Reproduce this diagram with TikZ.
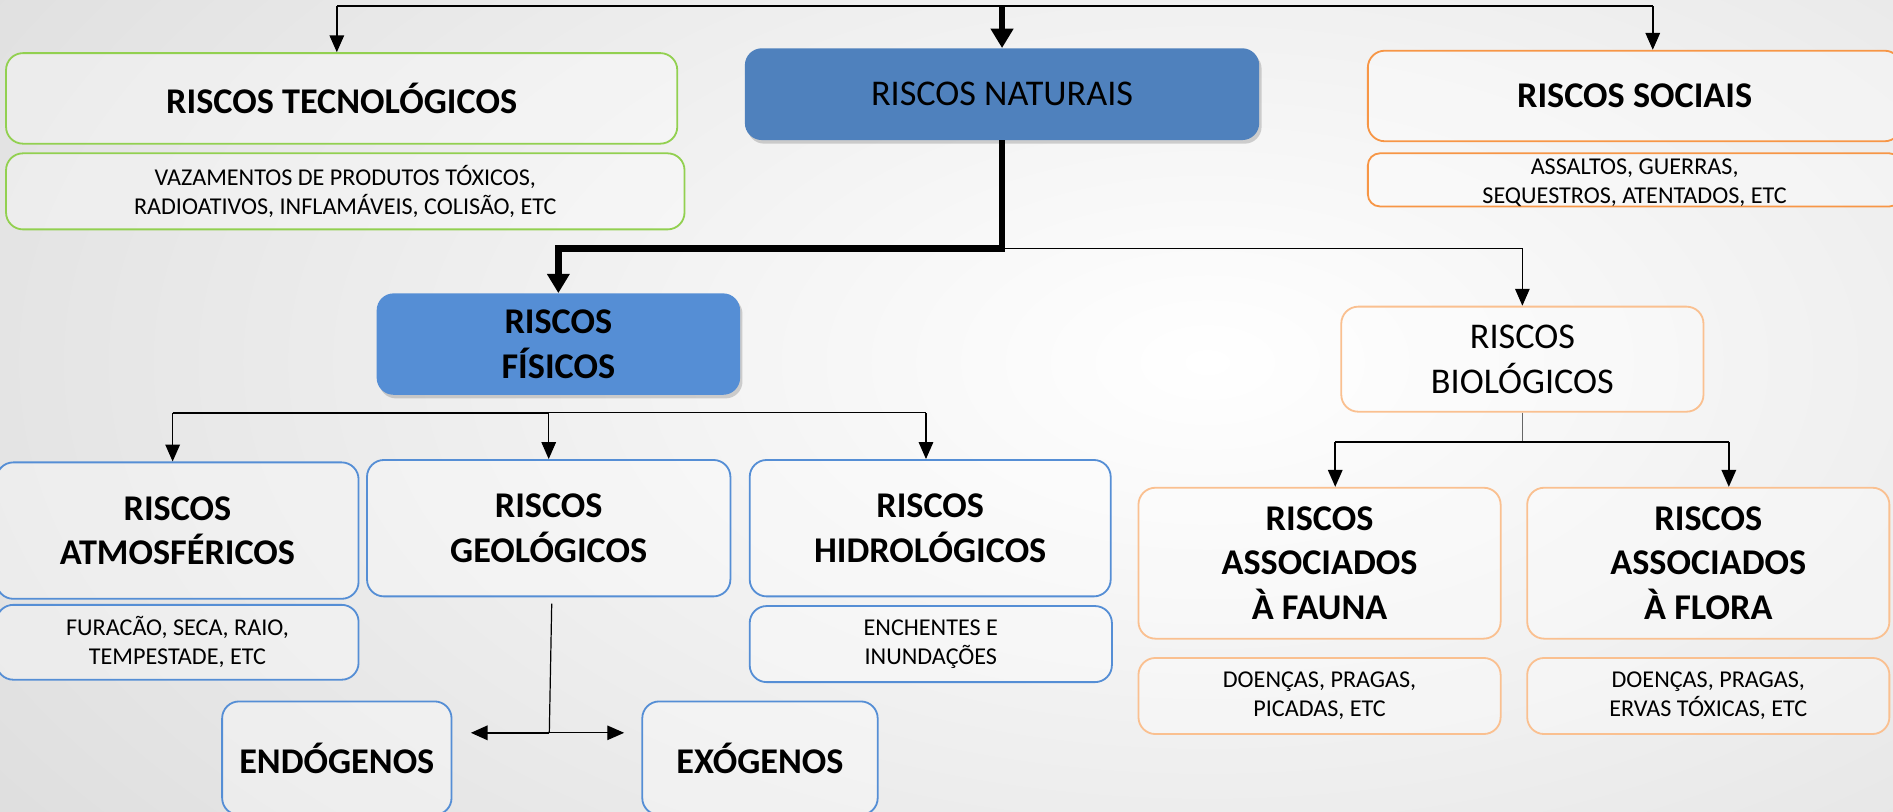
\documentclass[tikz,border=0pt]{standalone}
\usepackage{fontspec}
\setmainfont{Carlito}
\usetikzlibrary{arrows.meta,shadows}
\definecolor{cgreen}{HTML}{92D050}
\definecolor{cblue}{HTML}{558ED5}
\definecolor{cnat}{HTML}{4F81BD}
\definecolor{corange}{HTML}{F79646}
\definecolor{cpeach}{HTML}{FAC090}
\begin{document}
\begin{tikzpicture}[x=1pt,y=-1pt,
  box/.style={draw, rounded corners=14pt, line width=1.5pt, fill=white, fill opacity=0.35, text opacity=1, align=center, inner sep=0pt},
  solidbox/.style={rounded corners=14pt, align=center, inner sep=0pt, drop shadow={opacity=0.35, shadow xshift=2pt, shadow yshift=-3pt}},
  titlebf/.style={font=\fontsize{30}{37}\selectfont\bfseries},
  titlerm/.style={font=\fontsize{30}{37}\selectfont},
  subtxt/.style={font=\fontsize{20}{24}\selectfont},
  arr/.style={line width=1.3pt, -{Triangle[length=14pt,width=12pt]}},
  bigarr/.style={line width=5.5pt, -{Triangle[length=16pt,width=18pt]}},
  linkline/.style={line width=1.8pt},
  thinline/.style={line width=1pt}]
\useasboundingbox (0,0) rectangle (1568,672);
\begin{scope}
  \clip (0,0) rectangle (1568,672);
  \shade[inner color=white, outer color=black!19] (1000,300) ellipse [x radius=1800, y radius=1000];
\end{scope}

% top row
\node[box, draw=cgreen, minimum width=556pt, minimum height=75pt, titlebf] (tec) at (283,81.5) {RISCOS TECNOLÓGICOS};
\node[box, draw=cgreen, minimum width=562pt, minimum height=63pt, subtxt] (tecsub) at (286,158.5) {VAZAMENTOS DE PRODUTOS TÓXICOS,\\RADIOATIVOS, INFLAMÁVEIS, COLISÃO, ETC};
\node[solidbox, fill=cnat, minimum width=426pt, minimum height=76pt, titlerm] (nat) at (830,78) {RISCOS NATURAIS};
\node[box, draw=corange, minimum width=442pt, minimum height=75pt, titlebf] (soc) at (1354,79.5) {RISCOS SOCIAIS};
\node[box, draw=corange, rounded corners=10pt, minimum width=442pt, minimum height=44pt] (socsub) at (1354,149) {};
\node[subtxt, align=center, inner sep=0pt] (socsubtxt) at (1354,151) {ASSALTOS, GUERRAS,\\SEQUESTROS, ATENTADOS, ETC};

% second row
\node[solidbox, fill=cblue, minimum width=301pt, minimum height=84pt, titlebf] (fis) at (462.5,285) {RISCOS\\FÍSICOS};
\node[box, draw=cpeach, minimum width=300pt, minimum height=87pt, titlerm] (bio) at (1261,297.5) {RISCOS\\BIOLÓGICOS};

% third row
\node[box, draw=cblue, minimum width=300pt, minimum height=113pt, titlebf] (atm) at (147,439.5) {RISCOS\\ATMOSFÉRICOS};
\node[box, draw=cblue, minimum width=300pt, minimum height=62pt, subtxt] (atmsub) at (147,532) {FURACÃO, SECA, RAIO,\\TEMPESTADE, ETC};
\node[box, draw=cblue, minimum width=301pt, minimum height=113pt, titlebf] (geo) at (454.5,437.5) {RISCOS\\GEOLÓGICOS};
\node[box, draw=cblue, minimum width=299pt, minimum height=113pt, titlebf] (hid) at (770.5,437.5) {RISCOS\\HIDROLÓGICOS};
\node[box, draw=cblue, minimum width=300pt, minimum height=63pt, subtxt] (hidsub) at (771,533.5) {ENCHENTES E\\INUNDAÇÕES};
\node[box, draw=cblue, minimum width=190pt, minimum height=94pt, titlebf] (endo) at (279,628) {ENDÓGENOS};
\node[box, draw=cblue, minimum width=195pt, minimum height=94pt, titlebf] (exo) at (629.5,628) {EXÓGENOS};

\node[box, draw=cpeach, minimum width=300pt, minimum height=125pt, titlebf] (fau) at (1093,466.5) {RISCOS\\ASSOCIADOS\\À FAUNA};
\node[box, draw=cpeach, minimum width=300pt, minimum height=125pt, titlebf] (flo) at (1415,466.5) {RISCOS\\ASSOCIADOS\\À FLORA};
\node[box, draw=cpeach, minimum width=300pt, minimum height=63pt, subtxt] (fausub) at (1093,576.5) {DOENÇAS, PRAGAS,\\PICADAS, ETC};
\node[box, draw=cpeach, minimum width=300pt, minimum height=63pt, subtxt] (flosub) at (1415,576.5) {DOENÇAS, PRAGAS,\\ERVAS TÓXICAS, ETC};

% top connectors
\coordinate (t1) at (279,5);
\coordinate (t2) at (1369,5);
\coordinate (t3) at (830,5);
\draw[linkline] (t1) -- (t2);
\draw[arr] (t1) -- (tec.north -| t1);
\draw[arr] (t2) -- (soc.north -| t2);
\draw[line width=4.5pt, -{Triangle[length=16pt,width=18pt]}] (t3) -- (nat.north);

% naturais -> fisicos / biologicos
\coordinate (n1) at (830,206);
\draw[bigarr] (nat.south) -- (n1) -| (fis.north);
\draw[arr, line width=1pt] (n1) -| (bio.north);

% fisicos branches
\coordinate (f1) at (143,342);
\coordinate (f3) at (767,342);
\draw[linkline] (f1) -- (geo.north |- f1);
\draw[thinline] (geo.north |- f1) -- (f3);
\draw[arr] (f1) -- (atm.north -| f1);
\draw[arr, line width=1pt] (geo.north |- f1) -- (geo.north);
\draw[arr, line width=1pt] (f3) -- (hid.north -| f3);

% geologicos -> endogenos / exogenos
\coordinate (g0) at (457,500);
\coordinate (g1) at (455,607);
\coordinate (gL) at (390,607);
\coordinate (gR) at (517,607);
\draw[thinline] (g0) -- (g1);
\draw[arr, line width=1.8pt] (g1) -- (gL);
\draw[arr, line width=1pt] (g1) -- (gR);

% biologicos -> fauna / flora
\coordinate (b1) at (1261,366);
\coordinate (bL) at (1106,366);
\coordinate (bR) at (1432,366);
\draw[thinline, black!60] (bio.south) -- (b1);
\draw[linkline] (bL) -- (bR);
\draw[arr] (bL) -- (fau.north -| bL);
\draw[arr] (bR) -- (flo.north -| bR);
\end{tikzpicture}
\end{document}
